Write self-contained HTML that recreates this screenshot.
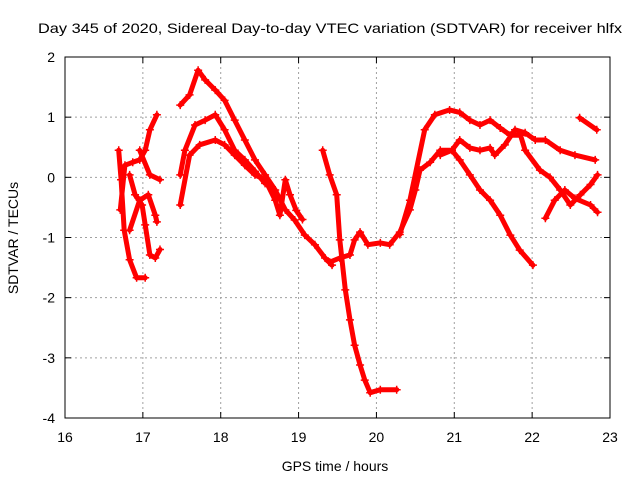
<!DOCTYPE html>
<html><head><meta charset="utf-8"><style>
body{margin:0;background:#fff}
svg text{font-family:"Liberation Sans",sans-serif;font-size:14px;fill:#000}
</style></head><body>
<svg id="chart" width="640" height="480" viewBox="0 0 640 480" xmlns="http://www.w3.org/2000/svg">
<rect width="640" height="480" fill="#fff"/>
<text x="330" y="33" text-anchor="middle" textLength="584" lengthAdjust="spacingAndGlyphs">Day 345 of 2020, Sidereal Day-to-day VTEC variation (SDTVAR) for receiver hlfx</text>
<g id="grid"></g>
<g id="series"></g>
<rect x="65" y="57" width="545" height="361" fill="none" stroke="#000" stroke-width="1"/>
<g id="ticks"></g>
<text x="335" y="471" text-anchor="middle">GPS time / hours</text>
<text x="0" y="0" text-anchor="middle" transform="translate(18,238) rotate(-90)">SDTVAR / TECUs</text>
</svg>
<script>
const xTicks=[16,17,18,19,20,21,22,23];
const yTicks=[2,1,0,-1,-2,-3,-4];
const trackA1=[[16.69,0.45],[16.72,-0.04],[16.76,-0.88],[16.83,-1.37],[16.92,-1.67],[17.03,-1.67]];
const trackA2=[[16.71,-0.54],[16.77,0.2],[16.87,0.25],[16.96,0.29],[17.03,0.45],[17.09,0.79],[17.18,1.04]];
const trackA3=[[16.83,0.04],[16.9,-0.29],[16.99,-0.46],[17.03,-0.79],[17.09,-1.29],[17.16,-1.34],[17.22,-1.2]];
const trackA4=[[16.96,0.45],[17.09,0.04],[17.22,-0.04]];
const trackA5=[[16.83,-0.88],[16.96,-0.38],[17.07,-0.29],[17.16,-0.63],[17.18,-0.74]];
const trackB1=[[17.48,1.2],[17.6,1.37],[17.71,1.78],[17.8,1.62],[17.93,1.45],[18.05,1.28],[18.18,0.95],[18.31,0.62],[18.44,0.29],[18.57,0.04],[18.7,-0.21],[18.83,-0.54],[18.95,-0.71],[19.08,-0.96],[19.21,-1.12],[19.34,-1.34],[19.43,-1.46]];
const trackB2=[[17.48,0.04],[17.54,0.45],[17.67,0.87],[17.8,0.95],[17.93,1.04],[18.05,0.79],[18.18,0.45],[18.31,0.29],[18.44,0.1],[18.57,-0.1]];
const trackB3=[[17.48,-0.46],[17.6,0.37],[17.73,0.54],[17.93,0.62],[18.05,0.54],[18.18,0.37],[18.31,0.2],[18.44,0.04],[18.57,-0.04],[18.7,-0.38],[18.76,-0.63],[18.83,-0.04],[18.89,-0.29],[18.97,-0.55],[19.05,-0.7]];
const trackC=[[19.31,0.45],[19.4,0.04],[19.49,-0.29],[19.53,-1.04],[19.6,-1.87],[19.66,-2.37],[19.72,-2.79],[19.79,-3.12],[19.85,-3.37],[19.92,-3.58],[20.05,-3.53],[20.26,-3.53]];
const trackD=[[19.4,-1.41],[19.53,-1.34],[19.66,-1.29],[19.72,-1.04],[19.79,-0.91],[19.89,-1.12],[20.05,-1.09],[20.17,-1.12],[20.3,-0.91],[20.43,-0.54],[20.5,-0.21],[20.56,0.12],[20.69,0.25],[20.82,0.45],[20.97,0.45],[21.07,0.62],[21.2,0.49],[21.33,0.45],[21.46,0.49],[21.52,0.37],[21.65,0.54],[21.78,0.79],[21.91,0.74],[22.04,0.62],[22.17,0.62],[22.36,0.45],[22.55,0.37],[22.81,0.29]];
const trackD2=[[20.3,-0.95],[20.43,-0.38],[20.62,0.79],[20.75,1.04],[20.94,1.12],[21.07,1.08],[21.2,0.95],[21.33,0.87],[21.46,0.95],[21.59,0.82],[21.72,0.7],[21.85,0.7],[21.91,0.45],[22.1,0.12],[22.23,0.0],[22.36,-0.21],[22.49,-0.46],[22.62,-0.29],[22.75,-0.12],[22.84,0.04]];
const trackD3=[[20.82,0.37],[20.97,0.45],[21.07,0.29],[21.2,0.04],[21.33,-0.21],[21.46,-0.38],[21.59,-0.63],[21.72,-0.96],[21.84,-1.21],[22.01,-1.46]];
const trackE=[[22.17,-0.68],[22.29,-0.38],[22.42,-0.21],[22.55,-0.35],[22.75,-0.46],[22.84,-0.58]];
const trackF=[[22.61,0.99],[22.83,0.79]];
const tracks=[trackA1,trackA2,trackA3,trackA4,trackA5,trackB1,trackB2,trackB3,trackC,trackD,trackD2,trackD3,trackE,trackF];

const X0=65,X1=610,Y0=57,Y1=418;
function xs(t){return X0+(t-16)/7*(X1-X0);}
function ys(v){return Y0+(2-v)/6*(Y1-Y0);}
const NS='http://www.w3.org/2000/svg';
function mk(tag,attrs,parent){const e=document.createElementNS(NS,tag);for(const k in attrs)e.setAttribute(k,attrs[k]);parent.appendChild(e);return e;}
const grid=document.getElementById('grid'),ticks=document.getElementById('ticks'),ser=document.getElementById('series');
xTicks.forEach(t=>{
  const x=xs(t);
  if(t>16&&t<23){const g=mk('line',{x1:x,x2:x,y1:Y0,y2:Y1,stroke:'#a0a0a0','stroke-dasharray':'2,3'},grid);
  
  }
  mk('line',{x1:x,x2:x,y1:Y1,y2:Y1-6,stroke:'#000'},ticks);
  mk('line',{x1:x,x2:x,y1:Y0,y2:Y0+6,stroke:'#000'},ticks);
  const l=mk('text',{x:x,y:Y1+24,'text-anchor':'middle'},ticks);l.textContent=t;
  
  
});
yTicks.forEach(v=>{
  const y=ys(v);
  if(v<2&&v>-4){const g=mk('line',{x1:X0,x2:X1,y1:y,y2:y,stroke:'#a0a0a0','stroke-dasharray':'2,3'},grid);
  
  }
  mk('line',{x1:X0,x2:X0+6,y1:y,y2:y,stroke:'#000'},ticks);
  mk('line',{x1:X1,x2:X1-6,y1:y,y2:y,stroke:'#000'},ticks);
  const l=mk('text',{x:X0-10,y:y+5,'text-anchor':'end'},ticks);l.textContent=v;
  
  
});
tracks.forEach(tr=>{
  const pts=tr.map(p=>xs(p[0]).toFixed(1)+','+ys(p[1]).toFixed(1)).join(' ');
  const pl=mk('polyline',{points:pts,fill:'none',stroke:'#ff0000','stroke-width':5,'stroke-linejoin':'round','stroke-linecap':'round'},ser);
  
  
  tr.forEach(p=>{
    const x=xs(p[0]),y=ys(p[1]);
    const m=mk('path',{d:`M${x-4},${y}H${x+4}M${x},${y-4}V${y+4}`,stroke:'#ff0000','stroke-width':1.5},ser);
    
    
  });
});
</script>
</body></html>
